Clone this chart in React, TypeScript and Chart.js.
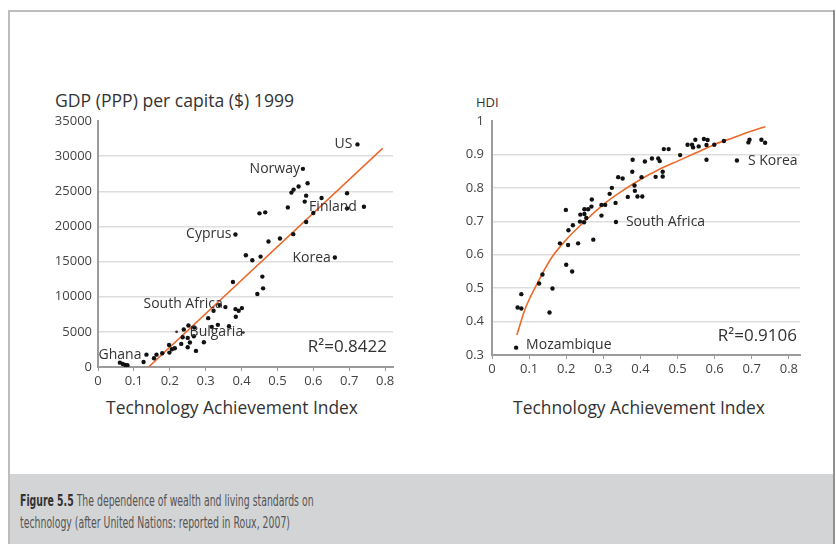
import React, { useEffect, useRef } from "react";
import { Chart, registerables } from "chart.js";
Chart.register(...registerables);

// ---------- Left chart: GDP vs TAI ----------
const gdpTai = [0.723, 0.571, 0.584, 0.559, 0.545, 0.539, 0.580, 0.694, 0.623, 0.576, 0.529, 0.741, 0.694, 0.600, 0.450, 0.466, 0.580, 0.383, 0.544, 0.507, 0.475, 0.412, 0.430, 0.453, 0.660, 0.458, 0.376, 0.460, 0.444, 0.339, 0.355, 0.322, 0.383, 0.392, 0.401, 0.384, 0.307, 0.365, 0.334, 0.317, 0.252, 0.239, 0.268, 0.250, 0.236, 0.267, 0.256, 0.232, 0.198, 0.295, 0.214, 0.206, 0.199, 0.250, 0.273, 0.179, 0.163, 0.156, 0.135, 0.127, 0.061, 0.069, 0.076, 0.082];
const gdpValue = [31670, 28190, 26140, 25680, 25240, 24810, 24380, 24710, 24050, 23530, 22710, 22810, 22570, 21900, 21860, 22000, 20620, 18860, 18900, 18290, 17860, 15900, 15190, 15710, 15570, 12860, 12100, 11190, 10380, 8810, 8520, 8000, 8240, 8000, 8380, 7140, 6950, 5810, 6000, 5710, 5900, 5330, 5620, 4140, 4240, 4380, 3480, 3290, 3140, 3520, 2660, 2520, 2050, 2810, 2290, 1950, 1760, 1240, 1760, 710, 620, 430, 290, 240];
const gdpSmallTai = [0.219, 0.405];
const gdpSmallValue = [5000, 4900];
const gdpTrendTai = [0.141, 0.793];
const gdpTrendValue = [0, 31100];
const gdpTicksX = [0, 0.1, 0.2, 0.3, 0.4, 0.5, 0.6, 0.7, 0.8];
const gdpTicksY = [0, 5000, 10000, 15000, 20000, 25000, 30000, 35000];
const gdpLabelText = ["US", "Norway", "Finland", "Cyprus", "Korea", "South Africa", "Ghana", "Bulgaria"];
const gdpLabelTai = [0.723, 0.571, 0.741, 0.383, 0.660, 0.339, 0.135, 0.219];
const gdpLabelValue = [31670, 28190, 22810, 18860, 15570, 8810, 1760, 5000];
const gdpR2 = "R\u00B2=0.8422";

// ---------- Right chart: HDI vs TAI ----------
const hdiTai = [0.136, 0.127, 0.200, 0.216, 0.183, 0.205, 0.199, 0.206, 0.218, 0.232, 0.237, 0.238, 0.248, 0.249, 0.249, 0.254, 0.259, 0.268, 0.269, 0.273, 0.295, 0.295, 0.305, 0.317, 0.323, 0.333, 0.334, 0.340, 0.352, 0.366, 0.378, 0.379, 0.384, 0.385, 0.392, 0.405, 0.403, 0.412, 0.431, 0.441, 0.448, 0.452, 0.460, 0.460, 0.463, 0.476, 0.507, 0.527, 0.539, 0.542, 0.548, 0.557, 0.571, 0.578, 0.581, 0.578, 0.599, 0.625, 0.660, 0.691, 0.694, 0.726, 0.736, 0.163, 0.079, 0.069, 0.079, 0.155, 0.065];
const hdiValue = [0.541, 0.514, 0.570, 0.550, 0.634, 0.629, 0.734, 0.673, 0.688, 0.634, 0.699, 0.720, 0.697, 0.736, 0.722, 0.710, 0.736, 0.744, 0.765, 0.645, 0.717, 0.749, 0.749, 0.782, 0.800, 0.755, 0.698, 0.832, 0.828, 0.773, 0.848, 0.884, 0.807, 0.791, 0.774, 0.774, 0.832, 0.879, 0.888, 0.833, 0.888, 0.880, 0.848, 0.834, 0.916, 0.916, 0.898, 0.929, 0.929, 0.921, 0.944, 0.924, 0.946, 0.928, 0.943, 0.884, 0.929, 0.940, 0.882, 0.936, 0.944, 0.944, 0.935, 0.499, 0.482, 0.442, 0.439, 0.427, 0.322];
const hdiTrendTai = [0.067, 0.09, 0.12, 0.16, 0.2, 0.25, 0.3, 0.35, 0.4, 0.45, 0.5, 0.55, 0.6, 0.65, 0.7, 0.737];
const hdiTrendValue = [0.36, 0.44, 0.51, 0.59, 0.645, 0.70, 0.75, 0.79, 0.825, 0.855, 0.88, 0.905, 0.93, 0.95, 0.97, 0.983];
const hdiTicksX = [0, 0.1, 0.2, 0.3, 0.4, 0.5, 0.6, 0.7, 0.8];
const hdiTicksY = [0.3, 0.4, 0.5, 0.6, 0.7, 0.8, 0.9, 1];
const hdiLabelText = ["S Korea", "South Africa", "Mozambique"];
const hdiLabelTai = [0.660, 0.334, 0.065];
const hdiLabelValue = [0.882, 0.698, 0.322];
const hdiR2 = "R\u00B2=0.9106";

const FONT = '"Open Sans", "DejaVu Sans", sans-serif';
const AXIS = "#9b9b9b";
const GRID = "#dddddd";
const ORANGE = "#ec6a2c";

const fmt = (v: number) => String(Math.round(v * 10) / 10);

const labelPlugin = {
  id: "pointLabels",
  afterDatasetsDraw(chart: any, _args: any, opts: any) {
    const { ctx, scales, chartArea } = chart;
    const x = scales.x;
    const y = scales.y;
    ctx.save();
    ctx.fillStyle = "#333";
    ctx.textBaseline = "middle";
    ctx.font = `14px ${FONT}`;
    opts.items.forEach((l: any) => {
      ctx.textAlign = l.align;
      ctx.fillText(l.text, x.getPixelForValue(l.x) + l.dx, y.getPixelForValue(l.y) + l.dy);
    });
    ctx.font = `17px ${FONT}`;
    ctx.textAlign = "right";
    ctx.fillText(opts.r2, chartArea.right + opts.r2dx, chartArea.bottom + opts.r2dy);
    ctx.restore();
  },
};

function makeConfig(p: any) {
  const pts = p.xs.map((v: number, i: number) => ({ x: v, y: p.ys[i] }));
  const trend = p.tx.map((v: number, i: number) => ({ x: v, y: p.ty[i] }));
  const datasets: any[] = [
    { data: pts, backgroundColor: "#111", borderColor: "#111", pointRadius: 2.2, pointBorderWidth: 0, showLine: false },
  ];
  if (p.sx) {
    datasets.push({ data: p.sx.map((v: number, i: number) => ({ x: v, y: p.sy[i] })), backgroundColor: "#333", pointRadius: 1.4, pointBorderWidth: 0, showLine: false });
  }
  datasets.push({ data: trend, showLine: true, borderColor: ORANGE, borderWidth: 1.6, pointRadius: 0, tension: 0.4, fill: false, cubicInterpolationMode: "monotone" });
  return {
    type: "scatter",
    data: { datasets },
    options: {
      responsive: false,
      animation: false,
      events: [],
      layout: { padding: { left: 0, right: p.padRight, top: p.padTop, bottom: 0 } },
      plugins: {
        legend: { display: false },
        tooltip: { enabled: false },
        pointLabels: { items: p.labels, r2: p.r2, r2dx: p.r2dx, r2dy: p.r2dy },
      },
      scales: {
        x: {
          type: "linear",
          min: 0,
          max: p.xMax,
          afterBuildTicks: (s: any) => { s.ticks = p.ticksX.map((v: number) => ({ value: v })); },
          ticks: { callback: (v: number) => fmt(v), font: { family: FONT, size: 13 }, color: "#444", padding: 2, maxRotation: 0, autoSkip: false },
          grid: { drawOnChartArea: false, drawTicks: true, tickLength: 4, color: AXIS, lineWidth: 1 },
          border: { color: AXIS, width: 2 },
          afterFit: (s: any) => { s.height = p.xHeight; },
        },
        y: {
          type: "linear",
          min: p.yMin,
          max: p.yMax,
          afterBuildTicks: (s: any) => { s.ticks = p.ticksY.map((v: number) => ({ value: v })); },
          ticks: { callback: (v: number) => p.yFmt(v), font: { family: FONT, size: 13 }, color: "#444", padding: p.yPad },
          grid: {
            drawTicks: false,
            lineWidth: 1.5,
            color: (c: any) => (c.tick && Math.abs(c.tick.value - p.yMax) < 1e-9 ? "rgba(0,0,0,0)" : GRID),
          },
          border: { color: AXIS, width: 2 },
          afterFit: (s: any) => { s.width = p.yWidth; },
        },
      },
    },
    plugins: [labelPlugin],
  };
}

function ChartBox({ config, left, top, width, height }: any) {
  const ref = useRef<HTMLCanvasElement>(null);
  useEffect(() => {
    const c = new Chart(ref.current as HTMLCanvasElement, config);
    return () => c.destroy();
  }, []);
  return <canvas ref={ref} width={width} height={height} style={{ position: "absolute", left, top, width, height }} />;
}

const leftLabels = gdpLabelText.map((t, i) => ({
  text: t,
  x: gdpLabelTai[i],
  y: gdpLabelValue[i],
  align: i === 7 ? "left" : "right",
  dx: [-5, -3, -7, -4, -4, 3, -5, 13][i],
  dy: [0, 0, 0, 0, 0, -1, 0, 0][i],
}));
const rightLabels = hdiLabelText.map((t, i) => ({
  text: t,
  x: hdiLabelTai[i],
  y: hdiLabelValue[i],
  align: "left",
  dx: [11, 10, 10][i],
  dy: [1, 0, -3][i],
}));

const leftConfig = makeConfig({
  xs: gdpTai, ys: gdpValue, sx: gdpSmallTai, sy: gdpSmallValue, tx: gdpTrendTai, ty: gdpTrendValue,
  ticksX: gdpTicksX, ticksY: gdpTicksY, xMax: 0.822, yMin: 0, yMax: 35000,
  yFmt: (v: number) => String(Math.round(v)), yPad: 6,
  padRight: 17, padTop: 16, xHeight: 28, yWidth: 58,
  labels: leftLabels, r2: gdpR2, r2dx: -6, r2dy: -20,
});
const rightConfig = makeConfig({
  xs: hdiTai, ys: hdiValue, tx: hdiTrendTai, ty: hdiTrendValue,
  ticksX: hdiTicksX, ticksY: hdiTicksY, xMax: 0.83, yMin: 0.3, yMax: 1,
  yFmt: fmt, yPad: 8,
  padRight: 20, padTop: 16, xHeight: 30, yWidth: 42,
  labels: rightLabels, r2: hdiR2, r2dx: -3, r2dy: -19,
});

export default function App() {
  const text: any = { position: "absolute", whiteSpace: "nowrap", color: "#333", fontFamily: FONT };
  return (
    <div style={{ position: "absolute", left: 0, top: 0, width: 836, height: 544, background: "#fff", overflow: "hidden" }}>
      <div style={{ position: "absolute", left: 9, top: 10, width: 826, height: 2, background: "#bdbdbd" }} />
      <div style={{ position: "absolute", left: 8, top: 10, width: 2, height: 534, background: "#bdbdbd" }} />
      <div style={{ position: "absolute", left: 833, top: 10, width: 2, height: 534, background: "#8f8f8f" }} />
      <div style={{ position: "absolute", left: 10, top: 474, width: 823, height: 70, background: "#d3d4d6" }} />

      <div style={{ ...text, left: 55, top: 88, fontSize: 17.6, lineHeight: "24px" }}>GDP (PPP) per capita ($) 1999</div>
      <div style={{ ...text, left: 476, top: 93, fontSize: 13, lineHeight: "18px" }}>HDI</div>
      <div style={{ ...text, left: 232, top: 395, fontSize: 17.4, lineHeight: "24px", transform: "translateX(-50%)" }}>Technology Achievement Index</div>
      <div style={{ ...text, left: 639, top: 395, fontSize: 17.4, lineHeight: "24px", transform: "translateX(-50%)" }}>Technology Achievement Index</div>

      <ChartBox config={leftConfig} left={40} top={105} width={370} height={290} />
      <ChartBox config={rightConfig} left={450} top={105} width={370} height={280} />

      <div style={{ position: "absolute", left: 20, top: 490, whiteSpace: "nowrap", fontFamily: '"Liberation Sans Narrow", "DejaVu Sans Condensed", sans-serif', fontSize: 15.5, lineHeight: "22px", color: "#555", transform: "scaleX(0.67)", transformOrigin: "left top" }}>
        <span style={{ fontWeight: "bold", color: "#333" }}>Figure 5.5</span> The dependence of wealth and living standards on
        <br />
        technology (after United Nations: reported in Roux, 2007)
      </div>
    </div>
  );
}
